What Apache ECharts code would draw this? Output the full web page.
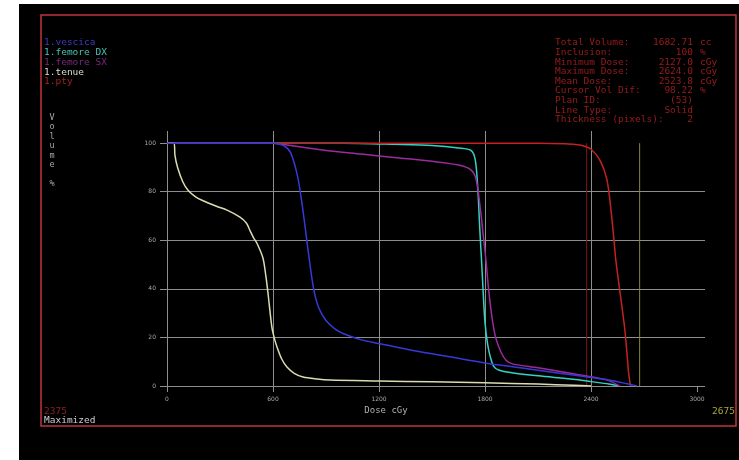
<!DOCTYPE html>
<html>
<head>
<meta charset="utf-8">
<script src="https://cdn.jsdelivr.net/npm/echarts@6/dist/echarts.min.js"></script>
<style>
html,body{margin:0;padding:0;background:#fff;width:739px;height:460px;overflow:hidden;}
#chart{position:absolute;left:19px;top:4px;width:720px;height:456px;background:#000;}
</style>
</head>
<body>
<div id="chart"></div>
<script>
// ---- data ----
const doseTicks = [0, 600, 1200, 1800, 2400, 3000];
const volTicks = [0, 20, 40, 60, 80, 100];

const structNames = ['1.vescica', '1.femore DX', '1.femore SX', '1.tenue', '1.pty'];

const vescica = [[0,100],[600,100],[660,99],[700,96],[740,86],[770,72],[800,55],[830,40],[860,32],[900,27],[950,23.5],[1000,21.5],[1100,19],[1200,17.5],[1400,14.5],[1600,12],[1800,9.5],[2000,7.5],[2200,5.5],[2400,3.5],[2500,2.5],[2600,1],[2660,0]];
const femoreDX = [[0,100],[1000,100],[1300,99.5],[1500,99],[1650,98],[1720,97],[1745,93],[1760,80],[1770,65],[1780,52],[1790,38],[1800,26],[1815,17],[1830,12],[1850,8],[1880,6.5],[1950,5.5],[2100,4.2],[2300,2.8],[2400,1.8],[2500,0.8],[2560,0]];
const femoreSX = [[0,100],[600,100],[650,99.5],[750,98.5],[900,97],[1100,95.5],[1300,94],[1500,92.5],[1650,91],[1720,89],[1750,85],[1775,72],[1790,62],[1805,52],[1820,40],[1840,28],[1860,20],[1890,14],[1920,10.5],[1960,9],[2100,7.5],[2300,5],[2400,3.8],[2500,2.2],[2560,0]];
const tenue = [[0,100],[40,100],[45,95],[60,90],[90,84],[119,80.6],[160,78],[198,76.5],[280,74],[340,72.4],[413,69.5],[450,67],[470,64],[490,61],[509,58.8],[543,52.7],[560,45],[572,38],[594,24],[610,19],[623,16],[650,11],[679,7.8],[720,5.2],[770,3.7],[850,2.9],[923,2.5],[1200,2.1],[1500,1.7],[1800,1.3],[2100,0.8],[2300,0.3],[2400,0]];
const pty = [[0,100],[2100,100],[2250,99.8],[2300,99.5],[2350,99],[2400,97.5],[2450,93],[2490,85],[2515,71],[2530,60],[2540,52],[2565,38],[2590,24],[2605,12],[2612,6],[2620,1.5],[2624,0]];

const cursorRed = [[2375,0],[2375,100]];
const cursorYellow = [[2675,0],[2675,100]];

const statLabels = ['Total Volume:', 'Inclusion:', 'Minimum Dose:', 'Maximum Dose:', 'Mean Dose:', 'Cursor Vol Dif:', 'Plan ID:', 'Line Type:', 'Thickness (pixels):'];
const statValues = ['1682.71', '100', '2127.0', '2624.0', '2523.8', '98.22', '(53)', 'Solid', '2'];
const statUnits = ['cc', '%', 'cGy', 'cGy', 'cGy', '%', '', '', ''];

const leftCursorText = '2375';
const rightCursorText = '2675';
const statusText = 'Maximized';
const xName = 'Dose cGy';
const yName = 'Volume %';

// ---- styles ----
const lineColors = ['#3838d8', '#34d2c2', '#9a2c9c', '#dcdcb0', '#c42222'];
const legendColors = ['#3a3ac0', '#46c4b4', '#7a2a7c', '#dcdcd0', '#a02222'];
const mono = '"DejaVu Sans Mono", "Liberation Mono", monospace';
const gridColor = '#8e8e8e';

const chart = echarts.init(document.getElementById('chart'), null, {renderer: 'canvas'});

const graphics = [];
graphics.push({type: 'rect', shape: {x: 22, y: 11, width: 695, height: 411}, style: {fill: 'none', stroke: '#c0353f', lineWidth: 1.5}, z: 0});
structNames.forEach((n, i) => {
  graphics.push({type: 'text', x: 25, y: 39 + i * 9.75, style: {text: n, fill: legendColors[i], font: '9.5px ' + mono, textVerticalAlign: 'middle'}});
});
statLabels.forEach((l, i) => {
  const y = 39 + i * 9.6;
  graphics.push({type: 'text', x: 536, y: y, style: {text: l, fill: '#9a1c1c', font: '9.5px ' + mono, textVerticalAlign: 'middle'}});
  graphics.push({type: 'text', x: 674, y: y, style: {text: statValues[i], fill: '#9a1c1c', font: '9.5px ' + mono, textAlign: 'right', textVerticalAlign: 'middle'}});
  if (statUnits[i]) graphics.push({type: 'text', x: 681, y: y, style: {text: statUnits[i], fill: '#9a1c1c', font: '9.5px ' + mono, textVerticalAlign: 'middle'}});
});
graphics.push({type: 'text', x: 33, y: 109, style: {text: yName.split('').join('\n'), fill: '#a8a8a8', font: '8.5px ' + mono, textAlign: 'center', textVerticalAlign: 'top', lineHeight: 9.5}});
graphics.push({type: 'text', x: 367, y: 407, style: {text: xName, fill: '#b0b0b0', font: '9px ' + mono, textAlign: 'center', textVerticalAlign: 'middle'}});
graphics.push({type: 'text', x: 25, y: 408, style: {text: leftCursorText, fill: '#8a2222', font: '9.5px ' + mono, textVerticalAlign: 'middle'}});
graphics.push({type: 'text', x: 25, y: 417, style: {text: statusText, fill: '#cfcfcf', font: '9.5px ' + mono, textVerticalAlign: 'middle'}});
graphics.push({type: 'text', x: 716, y: 408, style: {text: rightCursorText, fill: '#a8a840', font: '9.5px ' + mono, textAlign: 'right', textVerticalAlign: 'middle'}});

const curves = [vescica, femoreDX, femoreSX, tenue, pty];
const drawOrder = [1, 2, 4, 3, 0];
const series = [
  {type: 'line', data: cursorRed, showSymbol: false, silent: true, lineStyle: {color: '#7a1616', width: 1}, z: 1},
  {type: 'line', data: cursorYellow, showSymbol: false, silent: true, lineStyle: {color: '#86863a', width: 1}, z: 1}
];
drawOrder.forEach((k, j) => {
  series.push({
    type: 'line', name: structNames[k], data: curves[k], showSymbol: false, smooth: 0.3,
    lineStyle: {color: lineColors[k], width: 1.5}, z: 3 + j
  });
});

const plainNum = v => String(v);

chart.setOption({
  backgroundColor: '#000',
  animation: false,
  grid: {left: 148, right: 34, top: 127, bottom: 74},
  xAxis: {
    type: 'value', min: 0, max: 3045, interval: 600,
    axisLine: {show: false},
    axisTick: {show: true, length: 6, lineStyle: {color: gridColor}, customValues: doseTicks},
    axisLabel: {color: '#a8a8a8', fontSize: 6, fontFamily: 'DejaVu Sans', margin: 10, customValues: doseTicks, formatter: plainNum},
    splitLine: {show: true, showMinLine: true, showMaxLine: false, lineStyle: {color: gridColor, width: 1}}
  },
  yAxis: {
    type: 'value', min: 0, max: 105, interval: 20,
    axisLine: {show: false},
    axisTick: {show: true, length: 7, lineStyle: {color: gridColor}, customValues: volTicks},
    axisLabel: {color: '#a8a8a8', fontSize: 6, fontFamily: 'DejaVu Sans', margin: 11, customValues: volTicks, formatter: plainNum},
    splitLine: {show: true, showMinLine: true, showMaxLine: false, lineStyle: {color: gridColor, width: 1}}
  },
  graphic: graphics,
  series: series
});
</script>
</body>
</html>
